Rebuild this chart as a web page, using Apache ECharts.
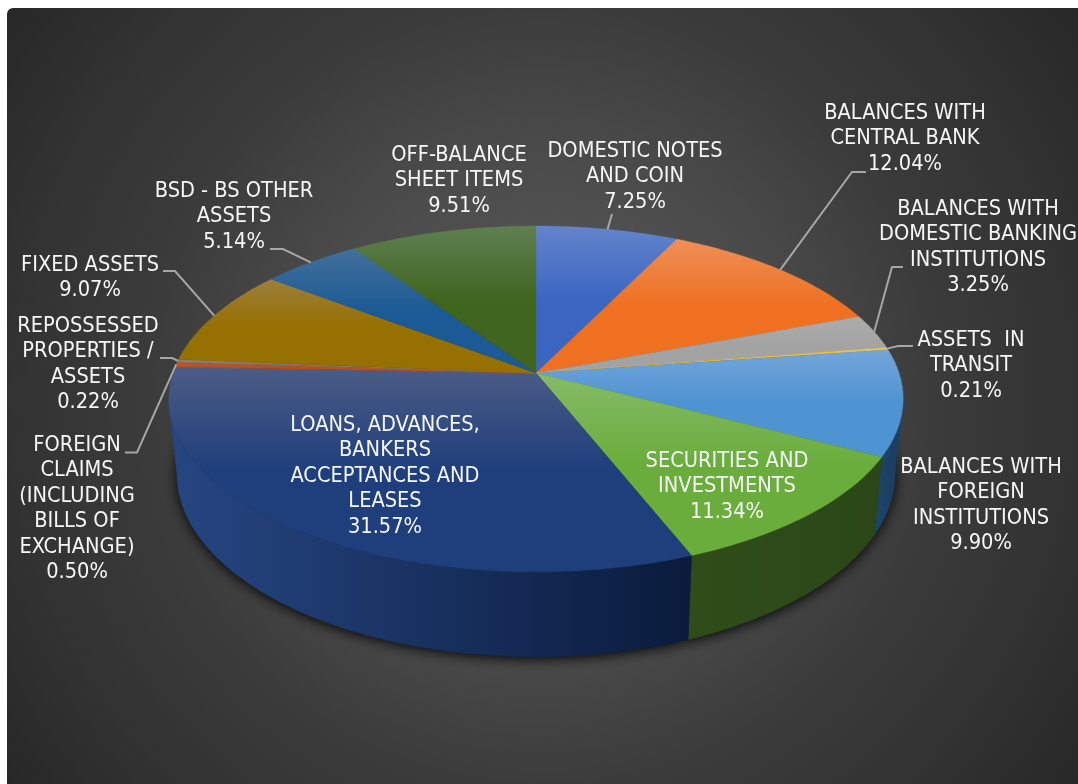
<!DOCTYPE html>
<html>
<head>
<meta charset="utf-8">
<title>Bank assets composition</title>
<style>
  html, body { margin: 0; padding: 0; background: #fff; }
  #chart { width: 1078px; height: 784px; }
</style>
<script src="https://cdn.jsdelivr.net/npm/echarts@6/dist/echarts.min.js"></script>
</head>
<body>
<div id="chart"></div>
<script>
// Slices run clockwise from twelve o'clock.
const categories = [
  'DOMESTIC NOTES\nAND COIN',
  'BALANCES WITH\nCENTRAL BANK',
  'BALANCES WITH\nDOMESTIC BANKING\nINSTITUTIONS',
  'ASSETS  IN\nTRANSIT',
  'BALANCES WITH\nFOREIGN\nINSTITUTIONS',
  'SECURITIES AND\nINVESTMENTS',
  'LOANS, ADVANCES,\nBANKERS\nACCEPTANCES AND\nLEASES',
  'FOREIGN\nCLAIMS\n(INCLUDING\nBILLS OF\nEXCHANGE)',
  'REPOSSESSED\nPROPERTIES /\nASSETS',
  'FIXED ASSETS',
  'BSD - BS OTHER\nASSETS',
  'OFF-BALANCE\nSHEET ITEMS'
];
const shares = [7.25, 12.04, 3.25, 0.21, 9.90, 11.34, 31.57, 0.50, 0.22, 9.07, 5.14, 9.51];

// Face colours: washed-out back edge, then the saturated body.
const faceBack = ['#6484cb', '#ef8f58', '#adadad', '#e8c65a', '#74a6da', '#86bb68', '#4c5c86', '#b05a30', '#858585', '#9c7f3e', '#43709c', '#5f7f52'];
const faceBody = ['#3a66c2', '#ee7020', '#a3a3a3', '#f4bf2c', '#4e93d2', '#6aad3c', '#1f3f7c', '#b8501e', '#7c7c7c', '#967000', '#1b5a94', '#40651f'];
const wallLeft = ['#1f3a6e', '#7a3d10', '#555555', '#7a6015', '#1e4569', '#2f4d19', '#264682', '#5a2a10', '#444444', '#4c3900', '#0f2f4e', '#20340f'];
const wallRight = ['#1f3a6e', '#7a3d10', '#555555', '#7a6015', '#1a3c60', '#2b4717', '#0a1b3c', '#5a2a10', '#444444', '#4c3900', '#0f2f4e', '#20340f'];

// Where each label sits: centre x and the y of its first line.
const labelAnchors = [
  [635, 150], [905, 112], [978, 208], [971, 339], [981, 466], [727, 460],
  [385, 424], [77, 444], [88, 325], [90, 264], [234, 190], [459, 154]
];
// Leader line points leading from a label to the rim of its slice; null means no leader.
const leaderPaths = [
  [[612, 214]],
  [[866, 172], [852, 172]],
  [[903, 267], [892, 267]],
  [[913, 346], [898, 346]],
  null,
  null,
  null,
  [[125, 452.5], [137, 452.5]],
  [[160, 358], [172, 358]],
  [[163, 271], [175, 271]],
  [[270, 249], [283, 249]],
  null
];

// Perspective disc: apex on the top face and the lower rim's transform.
const disc = { cx: 536, cy: 373, radius: 363, squash: 169, depth: 0.15,
               rimScaleX: 0.978, rimScaleY: 1.06, rimY: 446 };

// The outer wall faces the viewer only between the two silhouette points of the rim.
const wallStart = Math.acos(-disc.depth) / (2 * Math.PI);
const wallEnd = 1 - wallStart;

function rimPoint(turn, lower) {
  const a = turn * 2 * Math.PI;
  const X = Math.sin(a), Y = -Math.cos(a);
  const s = 1 / (1 - disc.depth * Y);
  if (lower) {
    return [disc.cx + disc.rimScaleX * disc.radius * X * s,
            disc.rimY + disc.rimScaleY * disc.squash * Y * s];
  }
  return [disc.cx + disc.radius * X * s, disc.cy + disc.squash * Y * s];
}

function arc(from, to, lower) {
  const steps = Math.max(2, Math.ceil((to - from) * 360));
  const pts = [];
  for (let i = 0; i <= steps; i++) pts.push(rimPoint(from + (to - from) * i / steps, lower));
  return pts;
}

const total = shares.reduce((a, b) => a + b, 0);
const starts = [];
shares.reduce((sum, v, i) => { starts[i] = sum; return sum + v; }, 0);

const linear = (x, y, x2, y2, stops) => new echarts.graphic.LinearGradient(x, y, x2, y2, stops);

function renderSlice(params, api) {
  const i = params.dataIndex;
  const value = api.value(0);
  const from = starts[i] / total;
  const to = (starts[i] + value) / total;
  const topArc = arc(from, to, false);
  const lowArc = arc(from, to, true);

  const faceFill = linear(0, 0, 0, 1, [
    { offset: 0, color: faceBack[i] },
    { offset: 0.5, color: faceBody[i] },
    { offset: 1, color: faceBody[i] }
  ]);

  const children = [
    { // soft contact shadow under the lower rim
      type: 'polygon', z2: 1, silent: true,
      shape: { points: [[disc.cx, disc.rimY]].concat(lowArc) },
      style: { fill: '#111', shadowBlur: 13, shadowColor: 'rgba(0,0,0,0.95)', shadowOffsetY: 2 }
    },
    {
      type: 'polygon', z2: 3,
      shape: { points: [[disc.cx, disc.cy]].concat(topArc) },
      style: { fill: faceFill, stroke: faceFill, lineWidth: 0.4 }
    },
    {
      type: 'text', z2: 6,
      style: {
        x: labelAnchors[i][0], y: labelAnchors[i][1] - 11.5,
        text: categories[i] + '\n' + value.toFixed(2) + '%',
        fill: '#f6f6f6', align: 'center', verticalAlign: 'top',
        font: '21.6px "DejaVu Sans Condensed", "DejaVu Sans", sans-serif',
        lineHeight: 25.5
      }
    }
  ];

  const wallFrom = Math.max(from, wallStart);
  const wallTo = Math.min(to, wallEnd);
  if (wallTo > wallFrom) {
    const wallFill = linear(0, 0, 1, 0, [
      { offset: 0, color: wallLeft[i] },
      { offset: 1, color: wallRight[i] }
    ]);
    children.push({
      type: 'polygon', z2: 2,
      shape: { points: arc(wallFrom, wallTo, false).concat(arc(wallFrom, wallTo, true).reverse()) },
      style: { fill: wallFill, stroke: wallFill, lineWidth: 0.5 }
    });
  }

  if (leaderPaths[i]) {
    children.push({
      type: 'polyline', z2: 5, silent: true,
      shape: { points: leaderPaths[i].concat([rimPoint((from + to) / 2, false)]) },
      style: { fill: 'none', stroke: '#a6a6a6', lineWidth: 2 }
    });
  }
  return { type: 'group', children };
}

const chart = echarts.init(document.getElementById('chart'), null, { renderer: 'canvas' });
chart.setOption({
  animation: false,
  backgroundColor: '#ffffff',
  graphic: [{
    type: 'rect', z: -1, silent: true,
    shape: { x: 7, y: 8, width: 1071, height: 776, r: [6, 0, 0, 0] },
    style: {
      fill: new echarts.graphic.RadialGradient(0.5, 0.5, 0.86, [
        { offset: 0, color: '#5e5e5e' },
        { offset: 0.41, color: '#484848' },
        { offset: 0.59, color: '#3b3b3b' },
        { offset: 0.8, color: '#323232' },
        { offset: 1, color: '#272727' }
      ])
    }
  }],
  series: [{
    type: 'custom',
    coordinateSystem: 'none',
    renderItem: renderSlice,
    data: shares.map(v => [v])
  }]
});
</script>
</body>
</html>
